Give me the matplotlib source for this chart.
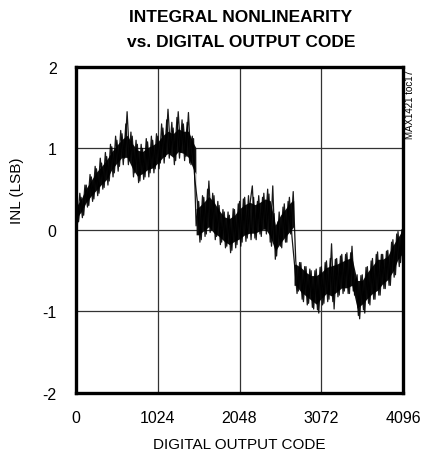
import matplotlib
matplotlib.use('Agg')
import matplotlib.pyplot as plt
import numpy as np

# INL trace, one value every 32 codes (spikes)
codes = np.arange(0, 4097, 32)
inl = [0.30, 0.10, 0.40, 0.18, 0.55, 0.30, 0.65, 0.38, 0.75, 0.45,
       0.82, 0.52, 0.90, 0.60, 1.02, 0.70, 1.10, 0.78, 1.18, 0.88,
       1.45, 0.85, 1.15, 0.70, 1.05, 0.60, 1.00, 0.65, 1.08, 0.70,
       1.10, 0.75, 1.15, 0.82, 1.25, 0.90, 1.48, 0.95, 1.25, 0.85,
       1.45, 0.95, 1.30, 0.90, 1.44, 0.80, 1.12, 0.05, 0.35, -0.12,
       0.40, -0.05, 0.60, 0.00, 0.42, -0.08, 0.30, -0.15, 0.22, -0.20,
       0.18, -0.25, 0.25, -0.18, 0.35, -0.15, 0.40, -0.10, 0.30, 0.54,
       -0.10, 0.35, -0.05, 0.40, 0.00, 0.50, -0.15, 0.54, -0.36, 0.10,
       -0.20, 0.28, -0.15, 0.35, -0.05, 0.47, -0.38, -0.75, -0.40, -0.88,
       -0.45, -0.90, -0.50, -0.97, -0.48, -1.02, -0.45, -0.90, -0.38, -0.85,
       -0.17, -0.97, -0.35, -0.80, -0.30, -0.75, -0.28, -0.78, -0.20, -0.80,
       -0.55, -1.09, -0.55, -1.02, -0.45, -0.92, -0.35, -0.85, -0.27, -0.80,
       -0.30, -0.72, -0.25, -0.68, -0.12, -0.55, -0.02, -0.40, 0.05]

# same trace in between, at codes 16, 48, ... 4080
codes_mid = np.arange(16, 4096, 32)
inl_mid = [0.05, 0.45, 0.15, 0.55, 0.28, 0.68, 0.35, 0.78, 0.42, 0.88,
           0.50, 0.95, 0.55, 1.05, 0.65, 1.15, 0.72, 1.22, 0.80, 1.30,
           0.80, 1.20, 0.65, 1.10, 0.58, 1.05, 0.62, 1.12, 0.65, 1.15,
           0.70, 1.18, 0.75, 1.30, 0.82, 1.35, 0.88, 1.32, 0.80, 1.38,
           0.88, 1.35, 0.85, 1.32, 0.82, 1.15, 0.62, 0.35, -0.15, 0.42,
           -0.08, 0.50, -0.03, 0.45, -0.12, 0.35, -0.18, 0.25, -0.22, 0.22,
           -0.28, 0.26, -0.22, 0.32, -0.20, 0.38, -0.14, 0.42, -0.12, 0.40,
           -0.12, 0.42, -0.08, 0.45, -0.05, 0.44, -0.20, 0.20, -0.32, 0.22,
           -0.22, 0.32, -0.15, 0.40, -0.08, -0.42, -0.78, -0.40, -0.85, -0.45,
           -0.92, -0.48, -0.95, -0.50, -0.98, -0.46, -0.92, -0.40, -0.88, -0.35,
           -0.88, -0.36, -0.82, -0.32, -0.78, -0.30, -0.78, -0.28, -0.75, -0.60,
           -1.05, -0.56, -0.98, -0.46, -0.90, -0.38, -0.85, -0.30, -0.80, -0.30,
           -0.72, -0.26, -0.68, -0.15, -0.58, -0.05, -0.45, 0.00]

# dense core of the trace (lower / upper edge of the dark band)
env_codes = [0, 64, 128, 192, 256, 320, 384, 448, 512, 576, 640, 704, 768,
             832, 896, 960, 1024, 1088, 1152, 1216, 1280, 1344, 1408, 1472,
             1500, 1504, 1536, 1600, 1664, 1728, 1792, 1856, 1920, 1984,
             2048, 2112, 2176, 2240, 2304, 2368, 2432, 2496, 2560, 2624,
             2688, 2726, 2730, 2752, 2816, 2880, 2944, 3008, 3072, 3136,
             3200, 3264, 3328, 3392, 3456, 3520, 3584, 3648, 3712, 3776,
             3840, 3904, 3968, 4032, 4096]
env_lo = [0.10, 0.18, 0.30, 0.38, 0.45, 0.52, 0.58, 0.70, 0.78, 0.85, 0.85,
          0.72, 0.62, 0.65, 0.70, 0.72, 0.78, 0.85, 0.90, 0.85, 0.92, 0.90,
          0.85, 0.70, 0.65, -0.10, -0.10, -0.05, 0.00, -0.08, -0.12, -0.18,
          -0.22, -0.18, -0.15, -0.10, -0.08, -0.08, -0.05, -0.02, -0.12,
          -0.30, -0.20, -0.12, -0.05, 0.00, -0.72, -0.72, -0.80, -0.85,
          -0.90, -0.95, -0.88, -0.82, -0.85, -0.80, -0.75, -0.75, -0.72,
          -1.00, -0.95, -0.88, -0.82, -0.78, -0.70, -0.65, -0.55, -0.40,
          -0.32]
env_hi = [0.32, 0.42, 0.55, 0.65, 0.75, 0.82, 0.90, 1.00, 1.08, 1.15, 1.20,
          1.10, 1.02, 1.00, 1.05, 1.08, 1.12, 1.20, 1.25, 1.22, 1.28, 1.25,
          1.25, 1.10, 1.05, 0.30, 0.32, 0.38, 0.45, 0.38, 0.28, 0.20, 0.18,
          0.22, 0.30, 0.35, 0.38, 0.35, 0.38, 0.42, 0.40, 0.10, 0.22, 0.30,
          0.38, 0.40, -0.38, -0.38, -0.42, -0.48, -0.52, -0.52, -0.48,
          -0.42, -0.40, -0.38, -0.35, -0.32, -0.30, -0.58, -0.58, -0.48,
          -0.40, -0.32, -0.32, -0.28, -0.15, -0.05, 0.05]

xticks = [0, 1024, 2048, 3072, 4096]
yticks = [-2, -1, 0, 1, 2]

plt.rcParams['font.family'] = ['Liberation Sans', 'DejaVu Sans']

fig = plt.figure(figsize=(4.21, 4.60), dpi=100)
ax = fig.add_axes([0.1805, 0.1435, 0.777, 0.709])

# core band is drawn a bit narrower than the read edges, spikes add the rest
ax.fill_between(env_codes, np.array(env_lo) + 0.04, np.array(env_hi) - 0.04,
                color='#111111', lw=0)
ax.plot(codes, inl, color='black', lw=0.9, alpha=0.9)
ax.plot(codes_mid, inl_mid, color='black', lw=0.9, alpha=0.9)

ax.set_xlim(0, 4096)
ax.set_ylim(-2, 2)
ax.set_xticks(xticks)
ax.set_yticks(yticks)
ax.set_yticklabels([str(v) for v in yticks])
ax.grid(True, color='#333333', lw=0.9)
ax.set_axisbelow(True)
ax.tick_params(length=0, labelsize=11.5, pad=12)
ax.tick_params(axis='y', pad=14)
for s in ax.spines.values():
    s.set_linewidth(2.4)

ax.set_xlabel('DIGITAL OUTPUT CODE', fontsize=11, labelpad=9)
fig.text(0.04, 0.585, 'INL (LSB)', rotation=90, fontsize=11,
         ha='center', va='center')

fig.text(0.572, 0.952, 'INTEGRAL NONLINEARITY', ha='center', va='baseline',
         fontsize=12.5, fontweight='bold')
fig.text(0.572, 0.898, 'vs. DIGITAL OUTPUT CODE', ha='center', va='baseline',
         fontsize=12.5, fontweight='bold')
fig.text(0.975, 0.848, 'MAX1421 toc17', rotation=90, fontsize=7,
         ha='center', va='top')

fig.savefig('out.png', dpi=100)
